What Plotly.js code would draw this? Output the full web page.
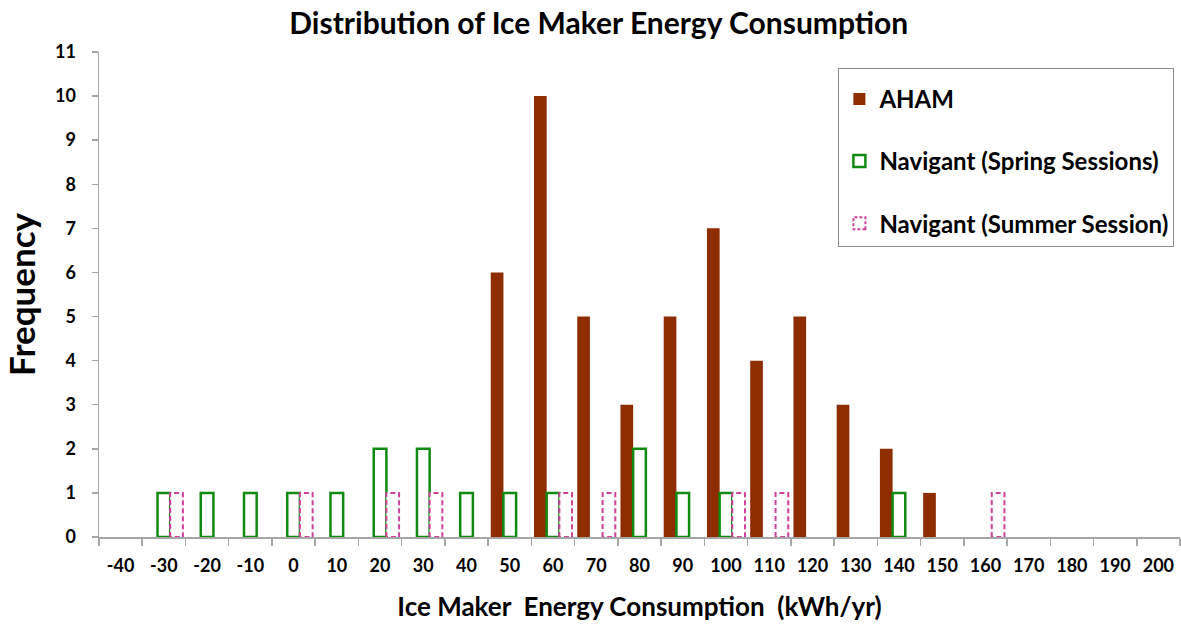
<!DOCTYPE html>
<html>
<head>
<meta charset="utf-8">
<script src="https://cdn.plot.ly/plotly-3.0.1.min.js"></script>
<style>
html,body{margin:0;padding:0;background:#fff;}
#chart{width:1181px;height:626px;}
</style>
</head>
<body>
<div id="chart"></div>
<script>
// ---- data ----
const categories = ['-40','-30','-20','-10','0','10','20','30','40','50','60','70','80','90','100','110','120','130','140','150','160','170','180','190','200'];
const ahamValues   = [0,0,0,0,0,0,0,0,0,6,10,5,3,5,7,4,5,3,2,1,0,0,0,0,0];
const springValues = [0,1,1,1,1,1,2,2,1,1,1,0,2,1,1,0,0,0,1,0,0,0,0,0,0];
const summerValues = [0,1,0,0,1,0,1,1,0,0,1,1,0,0,1,1,0,0,0,0,1,0,0,0,0];
const seriesNames = ['AHAM','Navigant (Spring Sessions)','Navigant (Summer Session)'];

const FONT = 'Lato, "Open Sans", sans-serif';
const nz = a => a.map(v => v === 0 ? null : v);

const traces = [
  {type:'bar', name:seriesNames[0], x:categories, y:nz(ahamValues), legendgroup:'a',
   marker:{color:'#8E2D00', line:{width:0}}},
  {type:'bar', name:seriesNames[1], x:categories, y:nz(springValues), legendgroup:'b',
   marker:{color:'#ffffff', line:{color:'#118A11', width:2.5}}},
  {type:'bar', name:seriesNames[2], x:categories, y:nz(summerValues), legendgroup:'c',
   marker:{color:'#ffffff', line:{color:'#CC3F9A', width:2}}}
];

const layout = {
  width:1181, height:626,
  paper_bgcolor:'#ffffff', plot_bgcolor:'#ffffff',
  margin:{l:99, r:1, t:52, b:89, autoexpand:false},
  barmode:'group', bargap:0.12, bargroupgap:0,
  font:{family:FONT, color:'#000', weight:700},
  title:{text:'Distribution of Ice Maker Energy Consumption', font:{family:FONT, size:30, weight:700, color:'#000'},
         x:0.507, xref:'container', xanchor:'center', y:0.963, yref:'container', yanchor:'middle'},
  xaxis:{type:'category', range:[-0.5,24.5], tickson:'boundaries', ticks:'outside', ticklen:7, tickwidth:1.5,
         tickcolor:'#A6A6A6', showline:true, linecolor:'#A6A6A6', linewidth:1.5, showgrid:false, zeroline:false,
         tickfont:{family:FONT, size:18, weight:700, color:'#000'}, ticklabelstandoff:12, automargin:false,
         title:{text:'Ice Maker  Energy Consumption  (kWh/yr)', font:{family:FONT, size:26, weight:700, color:'#000'}, standoff:22},
         fixedrange:true},
  yaxis:{range:[0,11], dtick:1, tick0:0, ticks:'outside', ticklen:6, tickwidth:1.5, tickcolor:'#A6A6A6',
         showline:true, linecolor:'#A6A6A6', linewidth:1.5, showgrid:false, zeroline:false,
         tickfont:{family:FONT, size:18, weight:700, color:'#000'}, ticklabelstandoff:12, automargin:false,
         title:{text:'Frequency', font:{family:FONT, size:35, weight:700, color:'#000'}, standoff:12},
         fixedrange:true},
  showlegend:true,
  legend:{x:0.684, y:0.967, xref:'paper', yref:'paper', xanchor:'left', yanchor:'top',
          bgcolor:'#ffffff', bordercolor:'#8C8C8C', borderwidth:1, traceorder:'grouped', tracegroupgap:28,
          title:{text:' ', font:{family:FONT, size:6}},
          font:{family:FONT, size:24, weight:700, color:'#000'}}
};

const gd = document.getElementById('chart');
function applyDash(){
  const target = seriesNames[2];
  gd.querySelectorAll('.barlayer .trace').forEach(g => {
    const d = g.__data__;
    if (d && d[0] && d[0].trace && d[0].trace.name === target) {
      g.querySelectorAll('path').forEach(p => p.style.strokeDasharray = '5,3');
    }
  });
  gd.querySelectorAll('.legend .traces').forEach(g => {
    const d = g.__data__;
    if (d && d[0] && d[0].trace && d[0].trace.name === target) {
      g.querySelectorAll('.legendpoints path').forEach(p => p.style.strokeDasharray = '3,2');
    }
  });
}
Plotly.newPlot(gd, traces, layout, {staticPlot:true, displayModeBar:false}).then(applyDash);
</script>
</body>
</html>
